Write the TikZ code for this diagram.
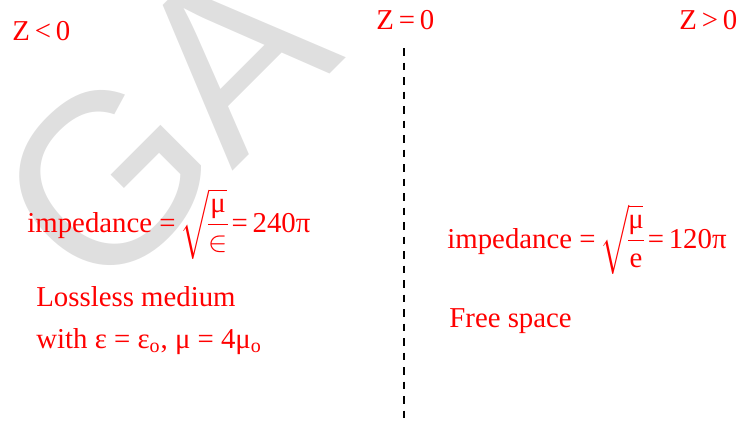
\documentclass[tikz,border=0pt]{standalone}
\usepackage{amsmath}
\usepackage{fontspec}
\setmainfont{Liberation Serif}
\newfontfamily\markfont{Liberation Sans}
\usetikzlibrary{positioning}
\newcommand{\rootfrac}[2]{$\sqrt{\mkern-2mu\dfrac{#1}{#2}\mkern-2mu}$}

\begin{document}
\begin{tikzpicture}[
        x=0.5pt, y=-0.5pt,
        lbl/.style={text=red, inner sep=0pt, anchor=base west, font=\fontsize{14.4}{17}\selectfont},
        boundary/.style={line width=1pt, dash pattern=on 3.75pt off 3.5pt},
        watermark/.style={text=gray!25, inner sep=0pt, rotate=45, font=\markfont\fontsize{121}{121}\selectfont}
    ]
    \useasboundingbox (0,0) rectangle (744,423);
    \node[watermark] (mark) at (164,122) {GA};

    % region labels
    \node[lbl] (neg) at (12,40) {Z\,<\,0};
    \node[lbl] (zero) at (376,29) {Z\,=\,0};
    \node[lbl] (pos) at (679,29) {Z\,>\,0};

    % interface
    \coordinate (top) at (404,48);
    \coordinate (bot) at (404,418);
    \draw[boundary] (top) -- (bot);

    % lossless side
    \node[lbl] (impl) at (27,232) {impedance =\,\rootfrac{\text{μ}}{\in}\,=\,240π};
    \node[lbl] (loss) at (36,306) {Lossless medium};
    \node[lbl] (with) at (36,348) {with ε = ε$_{\text{o}}$, μ = 4μ$_{\text{o}}$};

    % free space side
    \node[lbl] (impr) at (447,248) {impedance =\,\rootfrac{\text{μ}}{\text{e}}\,=\,120π};
    \node[lbl] (free) at (449,327) {Free space};
\end{tikzpicture}
\end{document}
